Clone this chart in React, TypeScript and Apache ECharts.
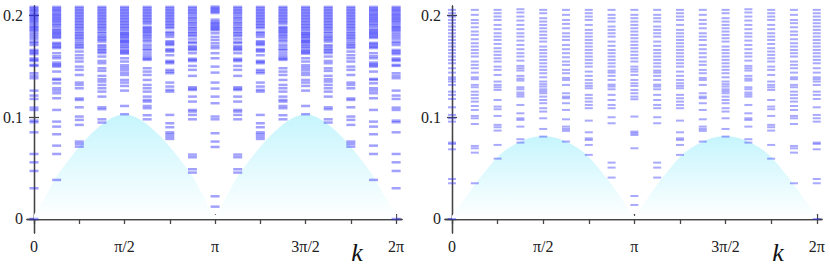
import React, { useEffect, useRef } from "react";
import * as echarts from "echarts";

// x is in units of pi/8 (column index 0..16 -> k = 0..2pi)
const xTickPositions = [0, 2, 4, 6, 8, 10, 12, 14, 16];
const xLabelPositions = [0, 4, 8, 12, 16];
const xTickLabels = ["0", "π/2", "π", "3π/2", "2π"];
const yTickValues = [0, 0.1, 0.2];
const yTickLabels = ["0", "0.1", "0.2"];

// continuum fill, sampled every pi/16 (half column) from 0 to 2pi
const fillLeft = [
  0.004, 0.022, 0.042, 0.057, 0.071, 0.083, 0.093, 0.1, 0.103, 0.1, 0.093, 0.083, 0.071, 0.057, 0.042, 0.022, 0.004,
  0.022, 0.042, 0.057, 0.071, 0.083, 0.093, 0.1, 0.103, 0.1, 0.093, 0.083, 0.071, 0.057, 0.042, 0.022, 0.004,
];
const fillRight = [
  0.003, 0.018, 0.034, 0.048, 0.061, 0.07, 0.076, 0.08, 0.0816, 0.08, 0.076, 0.07, 0.061, 0.048, 0.034, 0.018, 0.003,
  0.018, 0.034, 0.048, 0.061, 0.07, 0.076, 0.08, 0.0816, 0.08, 0.076, 0.07, 0.061, 0.048, 0.034, 0.018, 0.003,
];

// energy levels, left panel, columns k = 0 .. pi (the rest mirror k -> 2pi - k)
const L0 = [0, 0.0302, 0.0472, 0.0557, 0.0639, 0.0852, 0.0951, 0.0967, 0.1072, 0.1095, 0.118, 0.1213, 0.1262, 0.1384, 0.1407, 0.1433, 0.1505, 0.1515, 0.1554, 0.1565, 0.1578, 0.162, 0.1635, 0.1648, 0.1662, 0.171, 0.173, 0.1744, 0.177, 0.179, 0.181, 0.183, 0.185, 0.1862, 0.1875, 0.1888, 0.19, 0.192, 0.1935, 0.195, 0.1962, 0.1975, 0.199, 0.2002, 0.2015, 0.203, 0.2045, 0.2058, 0.207, 0.2085];
const L1 = [0.0384, 0.0639, 0.0721, 0.0833, 0.0908, 0.0957, 0.1072, 0.1187, 0.1236, 0.1262, 0.1285, 0.1334, 0.1367, 0.1378, 0.1449, 0.1498, 0.151, 0.1522, 0.1538, 0.158, 0.16, 0.163, 0.168, 0.1692, 0.1705, 0.172, 0.1732, 0.178, 0.1792, 0.1805, 0.1818, 0.183, 0.1842, 0.1855, 0.1868, 0.189, 0.1905, 0.192, 0.1935, 0.195, 0.1962, 0.1975, 0.199, 0.2002, 0.2015, 0.203, 0.2045, 0.2058, 0.207, 0.2085];
const L2 = [0.0711, 0.0738, 0.0761, 0.0925, 0.0974, 0.1007, 0.1098, 0.117, 0.1185, 0.1285, 0.1318, 0.1341, 0.1416, 0.1466, 0.1498, 0.1548, 0.158, 0.161, 0.1646, 0.168, 0.1695, 0.171, 0.1725, 0.1744, 0.1765, 0.178, 0.1795, 0.181, 0.1825, 0.184, 0.186, 0.1875, 0.189, 0.1905, 0.192, 0.1935, 0.195, 0.1965, 0.198, 0.1995, 0.201, 0.2025, 0.204, 0.2055, 0.207, 0.2085];
const L3 = [0.0948, 0.098, 0.1079, 0.1098, 0.1203, 0.1252, 0.1285, 0.1318, 0.1351, 0.1374, 0.1407, 0.1456, 0.1482, 0.1531, 0.1554, 0.1597, 0.163, 0.1645, 0.166, 0.1675, 0.1695, 0.171, 0.1744, 0.176, 0.1775, 0.179, 0.1805, 0.1826, 0.184, 0.186, 0.1875, 0.189, 0.1905, 0.192, 0.1935, 0.195, 0.1965, 0.198, 0.1995, 0.201, 0.2025, 0.204, 0.2055, 0.207, 0.2085];
const L4 = [0.103, 0.1111, 0.1262, 0.1308, 0.1341, 0.1367, 0.1416, 0.1439, 0.1466, 0.1489, 0.1511, 0.1548, 0.158, 0.1625, 0.1636, 0.1648, 0.166, 0.168, 0.1695, 0.171, 0.1728, 0.174, 0.175, 0.176, 0.178, 0.179, 0.1805, 0.1815, 0.1826, 0.184, 0.186, 0.1875, 0.189, 0.1905, 0.192, 0.1935, 0.195, 0.1965, 0.198, 0.1995, 0.201, 0.2025, 0.204, 0.2055, 0.207, 0.2085];
const L5 = [0.098, 0.102, 0.1089, 0.1111, 0.1154, 0.117, 0.1203, 0.1252, 0.1285, 0.1318, 0.1367, 0.1416, 0.1449, 0.1482, 0.1564, 0.1575, 0.1588, 0.161, 0.1635, 0.166, 0.1672, 0.1695, 0.1715, 0.1744, 0.176, 0.178, 0.1795, 0.181, 0.1826, 0.184, 0.1852, 0.1865, 0.1878, 0.189, 0.192, 0.1935, 0.195, 0.1965, 0.198, 0.1995, 0.201, 0.2025, 0.204, 0.2055, 0.207, 0.2085];
const L6 = [0.0787, 0.081, 0.0833, 0.0852, 0.0902, 0.0941, 0.1023, 0.1252, 0.1269, 0.1302, 0.1341, 0.1433, 0.1449, 0.1466, 0.1531, 0.1543, 0.1555, 0.161, 0.1646, 0.1658, 0.167, 0.171, 0.1722, 0.1735, 0.1748, 0.179, 0.181, 0.1826, 0.184, 0.1875, 0.189, 0.1905, 0.192, 0.1935, 0.195, 0.1965, 0.198, 0.1995, 0.201, 0.2025, 0.204, 0.2055, 0.207, 0.2085];
const L7 = [0.0456, 0.0489, 0.0607, 0.0633, 0.098, 0.1023, 0.1056, 0.1072, 0.1154, 0.1203, 0.1268, 0.128, 0.1295, 0.1407, 0.1466, 0.1505, 0.1552, 0.1564, 0.1576, 0.163, 0.166, 0.1672, 0.1685, 0.1698, 0.1728, 0.174, 0.1767, 0.1795, 0.181, 0.1826, 0.184, 0.186, 0.1875, 0.189, 0.191, 0.1925, 0.194, 0.196, 0.1975, 0.199, 0.201, 0.2025, 0.204, 0.2055, 0.207, 0.2085];
const L8 = [0.0121, 0.0223, 0.0708, 0.0761, 0.0843, 0.098, 0.1007, 0.1138, 0.1203, 0.1282, 0.1341, 0.1439, 0.1498, 0.158, 0.163, 0.1679, 0.17, 0.1728, 0.176, 0.179, 0.1826, 0.1855, 0.1866, 0.1878, 0.189, 0.1902, 0.1915, 0.1928, 0.194, 0.196, 0.2025, 0.2038, 0.205, 0.2062, 0.2075, 0.2088];

// energy levels, right panel
const R0 = [0, 0.0351, 0.0393, 0.0685, 0.0738, 0.0751, 0.0957, 0.099, 0.1023, 0.1098, 0.118, 0.122, 0.1252, 0.1318, 0.1351, 0.1374, 0.1393, 0.1439, 0.1482, 0.1531, 0.1564, 0.1597, 0.163, 0.1662, 0.1695, 0.1728, 0.176, 0.1793, 0.1826, 0.1859, 0.1892, 0.1925, 0.1957, 0.199, 0.2023, 0.2056];
const R1 = [0.0351, 0.0652, 0.0695, 0.0718, 0.0934, 0.099, 0.1013, 0.1072, 0.1111, 0.1154, 0.1187, 0.122, 0.1252, 0.1295, 0.1318, 0.1374, 0.1393, 0.1439, 0.1482, 0.1515, 0.1548, 0.1597, 0.163, 0.1662, 0.1695, 0.1728, 0.1767, 0.181, 0.1843, 0.1885, 0.1925, 0.1957, 0.2007, 0.2056];
const R2 = [0.0593, 0.0728, 0.0869, 0.0902, 0.0925, 0.1013, 0.1079, 0.1105, 0.117, 0.1269, 0.1295, 0.1318, 0.1351, 0.1416, 0.1466, 0.1498, 0.1548, 0.158, 0.1613, 0.1646, 0.1679, 0.1721, 0.176, 0.1793, 0.1826, 0.1866, 0.1908, 0.1957, 0.199, 0.2023, 0.2056];
const R3 = [0.0751, 0.0784, 0.0908, 0.0974, 0.099, 0.1039, 0.1121, 0.1203, 0.1223, 0.1243, 0.1275, 0.1295, 0.1361, 0.138, 0.1407, 0.1459, 0.1482, 0.1505, 0.1557, 0.1597, 0.163, 0.1669, 0.1711, 0.1754, 0.1793, 0.1826, 0.1866, 0.1908, 0.1951, 0.199, 0.203, 0.2062];
const R4 = [0.081, 0.0885, 0.099, 0.1056, 0.1089, 0.1138, 0.117, 0.1203, 0.1236, 0.1256, 0.1275, 0.1302, 0.1325, 0.1351, 0.1393, 0.1433, 0.1466, 0.1498, 0.1531, 0.1564, 0.1597, 0.163, 0.1662, 0.1695, 0.1744, 0.1777, 0.181, 0.1843, 0.1875, 0.1908, 0.1941, 0.1974, 0.2023, 0.2056];
const R5 = [0.0761, 0.0866, 0.0885, 0.0908, 0.098, 0.1072, 0.1138, 0.1187, 0.1203, 0.1236, 0.1318, 0.1367, 0.1387, 0.1433, 0.1466, 0.1515, 0.1548, 0.159, 0.163, 0.1669, 0.1711, 0.176, 0.1793, 0.1826, 0.1875, 0.1918, 0.1957, 0.2007, 0.2056];
const R6 = [0.063, 0.0728, 0.0777, 0.0793, 0.0852, 0.0967, 0.1089, 0.1121, 0.1154, 0.1187, 0.122, 0.1285, 0.1308, 0.1334, 0.1367, 0.1407, 0.1449, 0.1498, 0.1531, 0.1564, 0.1597, 0.163, 0.1662, 0.1695, 0.1728, 0.176, 0.1793, 0.1826, 0.1859, 0.1908, 0.1957, 0.199, 0.2023, 0.2056];
const R7 = [0.0407, 0.0505, 0.0554, 0.0941, 0.1, 0.1089, 0.1121, 0.117, 0.122, 0.1275, 0.1302, 0.1321, 0.1367, 0.1407, 0.1439, 0.1459, 0.1498, 0.1531, 0.1564, 0.1597, 0.163, 0.1662, 0.1702, 0.1744, 0.1793, 0.1826, 0.1859, 0.1892, 0.1941, 0.1974, 0.2007, 0.2056];
const R8 = [0.0138, 0.0226, 0.0695, 0.0826, 0.0843, 0.0859, 0.1007, 0.1177, 0.1203, 0.1236, 0.1269, 0.1308, 0.1334, 0.1367, 0.1416, 0.1449, 0.1472, 0.1498, 0.1548, 0.158, 0.1613, 0.1646, 0.1679, 0.1711, 0.1744, 0.1777, 0.181, 0.1843, 0.1875, 0.1908, 0.1941, 0.1974, 0.2007, 0.2056];

const leftCols = [L0, L1, L2, L3, L4, L5, L6, L7, L8];
const rightCols = [R0, R1, R2, R3, R4, R5, R6, R7, R8];

function levelPoints(cols: number[][]) {
  const pts: number[][] = [];
  for (let n = 0; n <= 16; n++) {
    const col = cols[n <= 8 ? n : 16 - n];
    col.forEach((v) => pts.push([n, v]));
  }
  return pts;
}
function fillPoints(vals: number[]) {
  return vals.map((v, i) => [i / 2, v]);
}

const AXIS_COLOR = "#444";
const SERIF = "Liberation Serif";

function makeAxes(gi: number, xmin: number, xmax: number) {
  const ymin = -0.0138;
  const ymax = 0.2094;
  const line = { show: true, lineStyle: { color: AXIS_COLOR, width: 1.3 } };
  const tickStyle = { color: AXIS_COLOR, width: 1.3 };
  const xa = (pos: string, showLabel: boolean) => ({
    type: "value",
    gridIndex: gi,
    position: pos,
    min: xmin,
    max: xmax,
    axisLine: line,
    axisTick: { show: true, inside: true, length: 5, customValues: xTickPositions, lineStyle: tickStyle },
    axisLabel: {
      show: showLabel,
      customValues: xLabelPositions,
      formatter: (v: number) => {
        const idx = xLabelPositions.findIndex((p) => Math.abs(p - v) < 1e-6);
        return idx >= 0 ? xTickLabels[idx] : "";
      },
      fontFamily: SERIF,
      fontSize: 16,
      color: "#222",
      margin: 5,
    },
    splitLine: { show: false },
  });
  const ya = (pos: string, showLabel: boolean) => ({
    type: "value",
    gridIndex: gi,
    position: pos,
    min: ymin,
    max: ymax,
    axisLine: line,
    axisTick: { show: true, inside: true, length: 5, customValues: yTickValues, lineStyle: tickStyle },
    axisLabel: {
      show: showLabel,
      customValues: yTickValues,
      formatter: (v: number) => {
        const idx = yTickValues.findIndex((p) => Math.abs(p - v) < 1e-6);
        return idx >= 0 ? yTickLabels[idx] : "";
      },
      fontFamily: SERIF,
      fontSize: 16,
      color: "#222",
      margin: 4,
    },
    splitLine: { show: false },
  });
  return { x: [xa("bottom", true), xa("top", false)], y: [ya("left", true), ya("right", false)] };
}

export default function App() {
  const ref = useRef<HTMLDivElement>(null);
  useEffect(() => {
    if (!ref.current) return;
    const chart = echarts.init(ref.current, null, { renderer: "svg" });
    const a0 = makeAxes(0, -0.31, 16.26);
    const a1 = makeAxes(1, -0.307, 16.23);
    const gradient = () =>
      new echarts.graphic.LinearGradient(0, 0, 0, 1, [
        { offset: 0, color: "rgba(198,245,253,1)" },
        { offset: 1, color: "rgba(255,255,255,1)" },
      ]);
    chart.setOption({
      animation: false,
      backgroundColor: "#fff",
      grid: [
        { left: 26, top: 6, width: 376, height: 227 },
        { left: 445, top: 6, width: 377, height: 227 },
      ],
      xAxis: [...a0.x, ...a1.x],
      yAxis: [...a0.y, ...a1.y],
      series: [
        {
          type: "line",
          xAxisIndex: 0,
          yAxisIndex: 0,
          data: fillPoints(fillLeft),
          smooth: 0.3,
          symbol: "none",
          lineStyle: { opacity: 0, width: 0 },
          areaStyle: { color: gradient(), opacity: 1 },
          z: 1,
        },
        {
          type: "line",
          xAxisIndex: 2,
          yAxisIndex: 2,
          data: fillPoints(fillRight),
          smooth: 0.3,
          symbol: "none",
          lineStyle: { opacity: 0, width: 0 },
          areaStyle: { color: gradient(), opacity: 1 },
          z: 1,
        },
        {
          type: "scatter",
          xAxisIndex: 0,
          yAxisIndex: 0,
          data: levelPoints(leftCols),
          symbol: "rect",
          symbolSize: [9, 2.5],
          itemStyle: { color: "rgba(40,40,250,0.55)" },
          z: 2,
        },
        {
          type: "scatter",
          xAxisIndex: 2,
          yAxisIndex: 2,
          data: levelPoints(rightCols),
          symbol: "rect",
          symbolSize: [8, 2],
          itemStyle: { color: "rgba(40,40,250,0.5)" },
          z: 2,
        },
      ],
      graphic: [
        {
          type: "text",
          x: 357,
          y: 252,
          style: { text: "k", font: "italic 26px " + SERIF, fill: "#111", textAlign: "center", textVerticalAlign: "middle" },
        },
        {
          type: "text",
          x: 778,
          y: 252,
          style: { text: "k", font: "italic 26px " + SERIF, fill: "#111", textAlign: "center", textVerticalAlign: "middle" },
        },
      ],
    });
    return () => chart.dispose();
  }, []);
  return (
    <div style={{ position: "absolute", left: 0, top: 0, width: 830, height: 270, background: "#fff" }}>
      <div ref={ref} style={{ width: 830, height: 270 }} />
    </div>
  );
}
